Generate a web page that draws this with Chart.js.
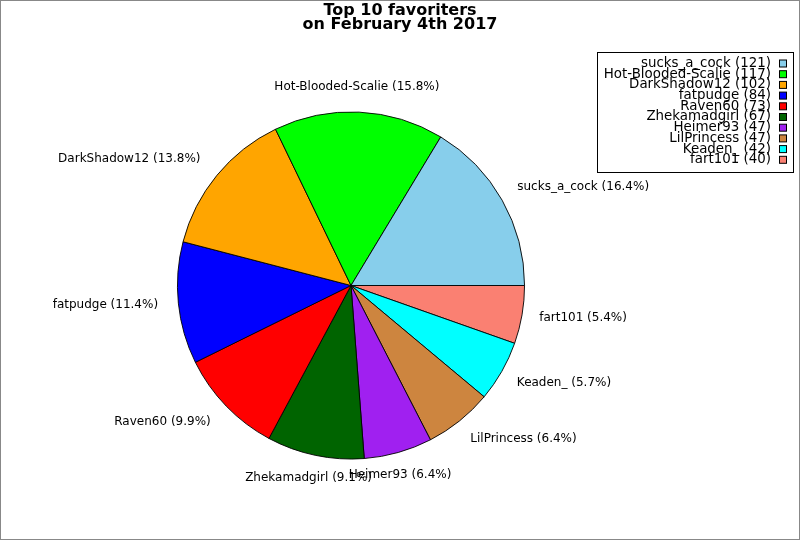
<!DOCTYPE html>
<html>
<head>
<meta charset="utf-8">
<script src="https://cdn.jsdelivr.net/npm/chart.js@4/dist/chart.umd.min.js"></script>
<style>
body { margin: 0; background: #fff; }
#chart { display: block; }
</style>
</head>
<body>
<canvas id="chart" width="800" height="540"></canvas>
<script>
// values as listed in the legend (largest first)
var names = ['sucks_a_cock', 'Hot-Blooded-Scalie', 'DarkShadow12', 'fatpudge', 'Raven60',
             'Zhekamadgirl', 'Heimer93', 'LilPrincess', 'Keaden_', 'fart101'];
var counts = [121, 117, 102, 84, 73, 67, 47, 47, 42, 40];
var colors = ['#87ceeb', '#00ff00', '#ffa500', '#0000ff', '#ff0000',
              '#006400', '#a020f0', '#cd853f', '#00ffff', '#fa8072'];
var title_lines = ['Top 10 favoriters', 'on February 4th 2017'];

var font = '"DejaVu Sans", sans-serif';
var total = counts.reduce(function (a, b) { return a + b; }, 0);

// pie goes counter-clockwise from 3 o'clock, chart.js goes clockwise,
// so feed it reversed and start at 90deg
var rev_names = names.slice().reverse();
var rev_counts = counts.slice().reverse();
var rev_colors = colors.slice().reverse();

var extras = {
    id: 'extras',
    afterDatasetsDraw: function (chart) {
        var c = chart.ctx;
        var arcs = chart.getDatasetMeta(0).data;
        c.save();
        // slice labels
        c.font = '12px ' + font;
        c.fillStyle = '#000';
        c.textBaseline = 'middle';
        arcs.forEach(function (arc, i) {
            var mid = (arc.startAngle + arc.endAngle) / 2;
            var r = arc.outerRadius * 1.1;
            var cs = Math.cos(mid), sn = Math.sin(mid);
            var x = arc.x + cs * r;
            var y = arc.y + sn * r + sn * 7 - 1;
            if (Math.abs(cs) < 0.4) {
                c.textAlign = 'center';
                x -= 3;
            } else if (cs > 0) {
                c.textAlign = 'left';
            } else {
                c.textAlign = 'right';
                x -= 3;
            }
            var pct = (rev_counts[i] / total * 100).toFixed(1);
            c.fillText(rev_names[i] + ' (' + pct + '%)', x, y);
        });

        // title
        c.font = 'bold 16px ' + font;
        c.textAlign = 'center';
        c.fillText(title_lines[0], 400, 11);
        c.fillText(title_lines[1], 400, 25);

        // legend box
        c.lineWidth = 1;
        c.strokeStyle = '#000';
        c.strokeRect(597.5, 52.5, 196, 120);
        c.font = '13.4px ' + font;
        c.textAlign = 'right';
        for (var i = 0; i < names.length; i++) {
            var ly = 63.5 + i * 10.7;
            c.fillStyle = '#000';
            c.fillText(names[i] + ' (' + counts[i] + ')', 771, ly);
            c.fillStyle = colors[i];
            c.fillRect(779.5, ly - 3.5, 7, 7);
            c.strokeRect(779.5, ly - 3.5, 7, 7);
        }

        // frame
        c.strokeStyle = '#888';
        c.strokeRect(0.5, 0.5, 799, 539);
        c.restore();
    }
};

var ctx = document.getElementById('chart');

var cfg = {
    type: 'pie',
    data: {
        labels: rev_names,
        datasets: [{
            data: rev_counts,
            backgroundColor: rev_colors,
            borderColor: '#000',
            borderWidth: 0.9
        }]
    },
    options: {
        responsive: false,
        animation: false,
        rotation: 90,
        layout: {
            padding: { left: 177, right: 275, top: 111, bottom: 80 }
        },
        plugins: {
            legend: { display: false },
            title: { display: false },
            tooltip: { enabled: false }
        }
    },
    plugins: [extras]
};

const chart = new Chart(ctx, cfg);
</script>
</body>
</html>
